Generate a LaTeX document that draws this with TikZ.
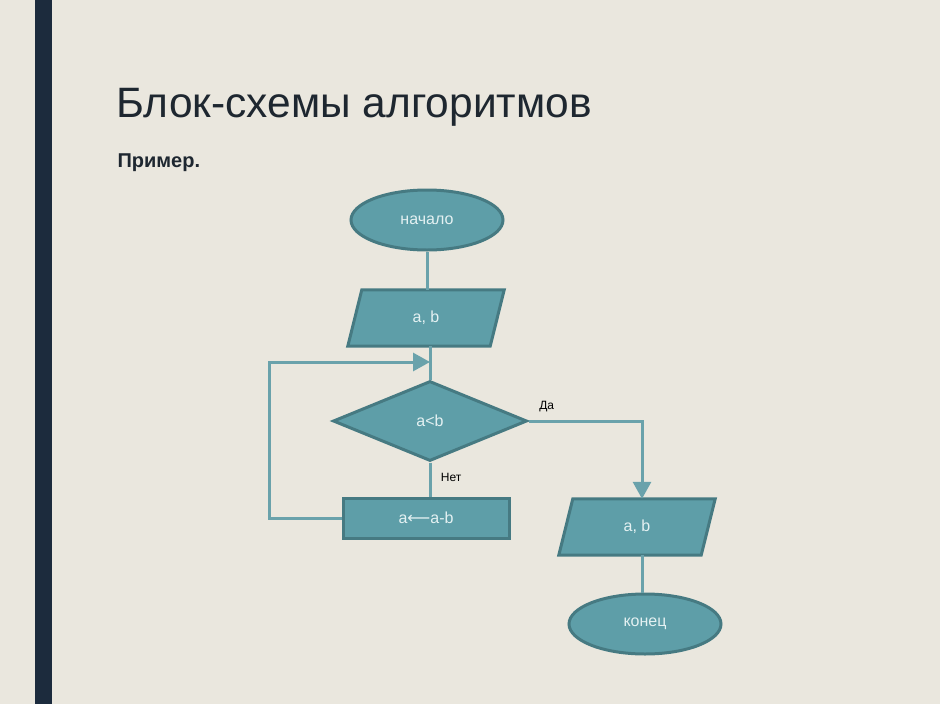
\documentclass[tikz,border=0pt]{standalone}
\usepackage{fontspec}
\setmainfont{Liberation Sans}
\newfontfamily\dejavu{DejaVu Sans}
\usetikzlibrary{shapes.geometric,arrows.meta}
\definecolor{bg}{HTML}{EAE7DE}
\definecolor{barc}{HTML}{1C2B3D}
\definecolor{shfill}{HTML}{5E9EA8}
\definecolor{shdraw}{HTML}{467A82}
\definecolor{linec}{HTML}{6AA2AB}
\definecolor{txtc}{HTML}{E4F1F2}
\definecolor{titlec}{HTML}{1E2730}
\tikzset{
  term/.style={ellipse, fill=shfill, draw=shdraw, line width=3pt, minimum width=152pt, minimum height=60pt, inner sep=0pt, text=txtc, font=\fontsize{16}{16}\selectfont},
  iobox/.style={rectangle, draw=none, minimum width=156pt, minimum height=56pt, inner sep=0pt, text=txtc, font=\fontsize{16}{16}\selectfont},
  procbox/.style={rectangle, fill=shfill, draw=shdraw, line width=3pt, minimum width=166pt, minimum height=40pt, inner sep=0pt, text=txtc, font=\fontsize{16}{16}\selectfont},
  decision/.style={diamond, fill=shfill, draw=shdraw, line width=3pt, minimum width=194pt, minimum height=80pt, inner sep=0pt, text=txtc, font=\fontsize{16}{16}\selectfont},
  para/.style={fill=shfill, draw=shdraw, line width=3pt, line join=miter},
  conn/.style={draw=linec, line width=3pt},
  arr/.style={conn, -{Triangle[length=17pt,width=18pt]}},
  lbl/.style={font=\fontsize{12}{12}\selectfont, text=black}
}
\begin{document}
\begin{tikzpicture}[x=1pt,y=-1pt]
\fill[bg] (0,0) rectangle (940,704);
\useasboundingbox (0,0) rectangle (940,704);
\fill[barc] (35,0) rectangle (52,704);
\node[anchor=base west, text=titlec, font=\fontsize{42.5}{42.5}\selectfont] (title) at (113,117) {Блок-схемы алгоритмов};
\node[anchor=base west, text=titlec, font=\bfseries\fontsize{20}{20}\selectfont] (sub) at (114,167) {Пример.};

\node[term] (start) at (427,220) {начало};
\node[iobox] (in1) at (426,318) {};
\draw[para] ([xshift=14pt]in1.north west) -- (in1.north east) -- ([xshift=-14pt]in1.south east) -- (in1.south west) -- cycle;
\node[iobox] at (in1) {a, b};
\node[decision] (cond) at (430,421) {a<b};
\node[procbox] (upd) at (426,518) {a{\dejavu ⟵}a-b};
\node[iobox] (out1) at (637,527) {};
\draw[para] ([xshift=14pt]out1.north west) -- (out1.north east) -- ([xshift=-14pt]out1.south east) -- (out1.south west) -- cycle;
\node[iobox] at (out1) {a, b};
\node[term] (stop) at (645,624) {конец};
\coordinate (join) at (430,362);

\draw[conn] (start.south) -- (start.south |- in1.north);
\draw[conn] (in1.south -| cond.north) -- (cond.north);
\draw[conn] (cond.south) -- node[lbl, right, xshift=6pt, pos=0.45] (no) {Нет} (cond.south |- upd.north);
\draw[arr] (upd.west) -- ++(-72,0) |- (join);
\draw[arr] (cond.east) -| node[lbl, pos=0.08, above, yshift=4pt] (yes) {Да} ([xshift=5pt]out1.north);
\draw[conn] ([xshift=5pt]out1.south) -- ([xshift=5pt]out1.south |- stop.north);
\end{tikzpicture}
\end{document}
